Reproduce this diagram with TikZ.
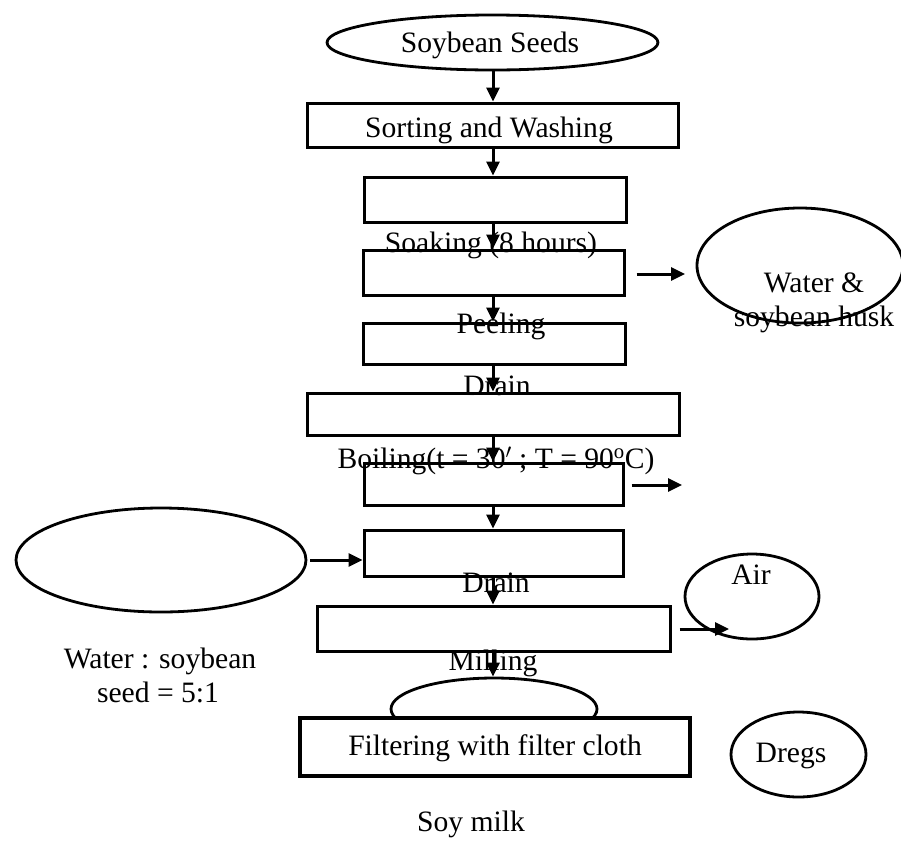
\documentclass[tikz,border=0pt]{standalone}
\usepackage{fontspec}
\setmainfont{Liberation Serif}
\usetikzlibrary{shapes.geometric,arrows.meta}
\begin{document}
\begin{tikzpicture}[x=1pt,y=-1pt,
  box/.style={draw, line width=3pt, rectangle, inner sep=0pt, fill=white},
  oval/.style={draw, line width=2.8pt, ellipse, inner sep=0pt},
  lbl/.style={anchor=base, inner sep=0pt, font=\fontsize{29.6}{34}\selectfont},
  arr/.style={line width=3pt, -{Triangle[length=14pt,width=13pt]}}]
\useasboundingbox (0,0) rectangle (901,841);

% shapes
\node[oval, minimum width=331pt, minimum height=55pt] (seeds) at (492.5,42.5) {};
\node[box, minimum width=371pt, minimum height=44pt] (sort) at (492.5,125) {};
\node[box, minimum width=262pt, minimum height=45pt] (b2) at (495,199.5) {};
\node[box, minimum width=261pt, minimum height=45pt] (b3) at (493.5,272.5) {};
\node[box, minimum width=262pt, minimum height=41pt] (b4) at (494,343.5) {};
\node[box, minimum width=372pt, minimum height=42pt] (b5) at (493,414) {};
\node[box, minimum width=259pt, minimum height=42pt] (b6) at (493.5,484) {};
\node[box, minimum width=259pt, minimum height=46pt] (b7) at (493.5,553) {};
\node[box, minimum width=353pt, minimum height=45pt] (b8) at (493.5,628.5) {};
\node[oval, minimum width=206pt, minimum height=62pt] (farc) at (494,709) {};
\node[box, line width=4.5pt, minimum width=390pt, minimum height=58pt] (filt) at (495,747) {};

\node[oval, minimum width=206pt, minimum height=115pt] (husk) at (800,265.5) {};
\node[oval, minimum width=290pt, minimum height=104pt] (waterL) at (161,560) {};
\node[oval, minimum width=134pt, minimum height=85pt] (air) at (752,596.5) {};
\node[oval, minimum width=135pt, minimum height=85pt] (dregs) at (798.5,754.5) {};

% free arrow ends
\coordinate (ax) at (493,0);
\coordinate (h1e) at (685,274);
\coordinate (h2e) at (682,485);
\coordinate (h3e) at (729,629);

% vertical arrows
\draw[arr] (seeds.south -| ax) -- (sort.north -| ax);
\draw[arr] (sort.south -| ax) -- (b2.north -| ax);
\draw[arr] (b2.south -| ax) -- (b3.north -| ax);
\draw[arr] (b3.south -| ax) -- (b4.north -| ax);
\draw[arr] (b4.south -| ax) -- (b5.north -| ax);
\draw[arr] (b5.south -| ax) -- (b6.north -| ax);
\draw[arr] (b6.south -| ax) -- (b7.north -| ax);
\draw[arr] (b7.south -| ax) -- (b8.north -| ax);
\draw[arr] (b8.south -| ax) -- (farc.north -| ax);

% horizontal arrows
\draw[arr] ([xshift=11pt]b3.east |- h1e) -- (h1e);
\draw[arr] ([xshift=7pt]b6.east |- h2e) -- (h2e);
\draw[arr] ([xshift=3pt]waterL.east) -- (b7.west |- waterL.east);
\draw[arr] ([xshift=8pt]b8.east |- h3e) -- (h3e);

% texts
\node[lbl] (t1) at (490,52) {Soybean Seeds};
\node[lbl] (t2) at (489,137) {Sorting and Washing};
\node[lbl] (t3) at (491,252) {Soaking (8 hours)};
\node[lbl] (t4) at (501,333) {Peeling};
\node[lbl] (t5) at (497,395) {Drain};
\node[lbl] (t6) at (496,468) {Boiling(t = 30$'$ ; T = 90\textsuperscript{o}C)};
\node[lbl] (t7) at (814,292) {Water \&};
\node[lbl] (t8) at (814,326) {soybean husk};
\node[lbl] (t9) at (496,592) {Drain};
\node[lbl] (t10) at (493,670) {Milling};
\node[lbl] (t11) at (751,584) {Air};
\node[lbl] (t12) at (160,668) {Water : soybean};
\node[lbl] (t13) at (158,702) {seed = 5:1};
\node[lbl] (t14) at (495,755) {Filtering with filter cloth};
\node[lbl] (t15) at (791,762) {Dregs};
\node[lbl] (t16) at (471,831) {Soy milk};
\end{tikzpicture}
\end{document}
